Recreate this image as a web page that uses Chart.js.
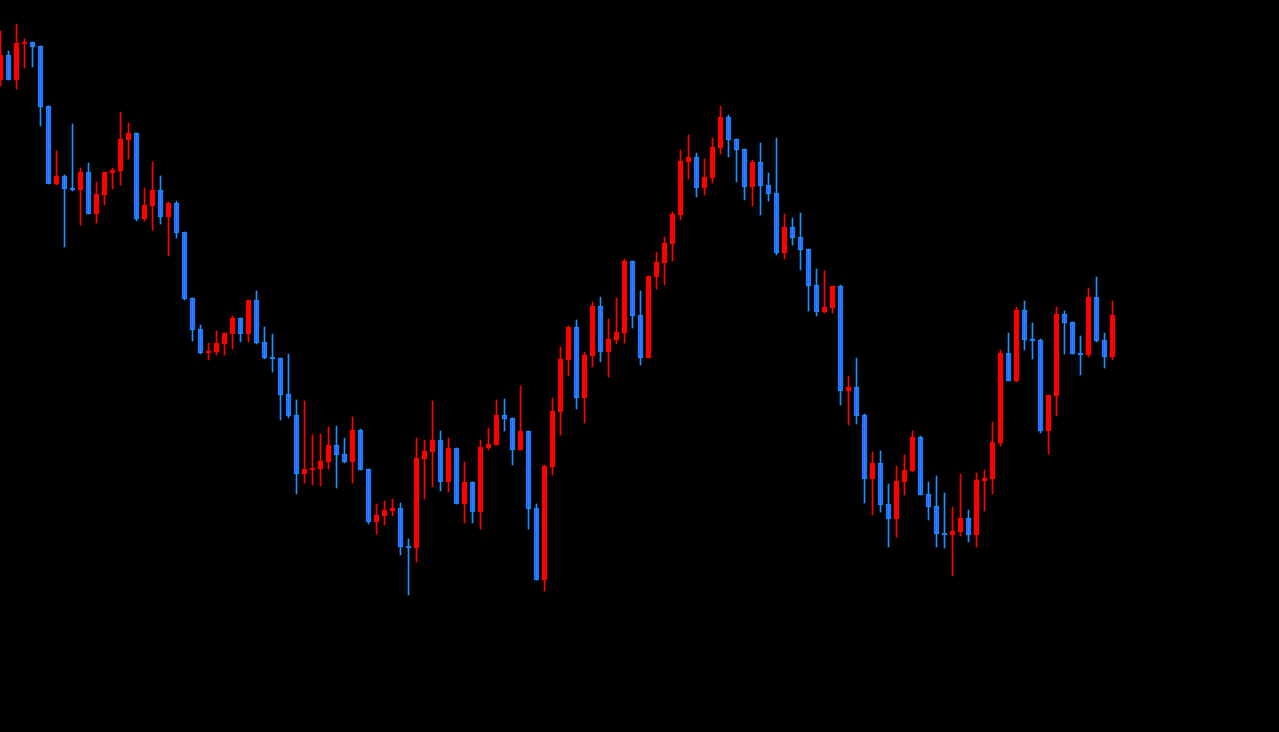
<!DOCTYPE html>
<html>
<head>
<meta charset="utf-8">
<script src="https://cdn.jsdelivr.net/npm/chart.js@4.4.1/dist/chart.umd.min.js"></script>
<style>
    html, body { margin: 0; padding: 0; background: #000; }
    #wrap { width: 1279px; height: 732px; position: relative; }
</style>
</head>
<body>
<div id="wrap"><canvas id="candles"></canvas></div>
<script>
const opens = [
    920, 945, 920, 956, 958, 954, 894, 816, 824, 812, 810, 828, 786, 805, 827, 829, 860, 867, 781, 794,
    810, 783, 797, 768, 702, 671, 647, 648, 656, 666, 682, 666, 700, 658, 643, 642, 606, 585, 526, 530,
    531, 538, 555, 546, 538, 570, 531, 478, 484, 489, 492, 454, 452, 541, 548, 560, 518, 552, 496, 518,
    488, 552, 555, 585, 582, 550, 569, 492, 420, 533, 588, 640, 673, 602, 644, 694, 648, 660, 667, 739,
    685, 642, 723, 737, 756, 785, 838, 843, 812, 822, 852, 883, 861, 851, 813, 838, 815, 807, 747, 773,
    763, 751, 715, 688, 692, 714, 609, 613, 585, 521, 537, 496, 481, 518, 529, 563, 506, 494, 467, 465,
    468, 482, 465, 519, 521, 557, 647, 619, 690, 661, 660, 569, 604, 686, 678, 647, 645, 703, 660, 643
];
const highs = [
    969, 949, 976, 961, 958, 954, 894, 849, 825, 876, 832, 837, 818, 828, 832, 888, 877, 867, 812, 838,
    824, 798, 799, 768, 702, 675, 657, 669, 667, 684, 682, 700, 709, 673, 666, 642, 646, 600, 599, 565,
    566, 573, 574, 562, 583, 571, 531, 496, 499, 501, 497, 461, 562, 560, 599, 569, 562, 552, 538, 518,
    560, 572, 600, 601, 582, 614, 569, 496, 535, 602, 653, 674, 680, 648, 698, 703, 681, 702, 741, 739,
    709, 724, 748, 763, 788, 850, 865, 847, 841, 862, 894, 885, 861, 851, 840, 857, 827, 862, 786, 782,
    787, 751, 731, 729, 714, 715, 624, 642, 586, 548, 549, 516, 534, 545, 569, 564, 518, 524, 507, 493,
    526, 490, 527, 530, 578, 650, 667, 693, 699, 677, 661, 605, 693, 689, 678, 664, 712, 723, 667, 699
];
const lows = [
    914, 920, 911, 932, 933, 874, 816, 815, 753, 809, 775, 786, 777, 795, 811, 815, 841, 779, 779, 770,
    776, 744, 762, 700, 659, 646, 640, 645, 645, 651, 658, 658, 656, 641, 628, 580, 582, 506, 517, 515,
    514, 531, 512, 537, 517, 530, 476, 466, 475, 484, 445, 405, 438, 501, 513, 509, 508, 496, 477, 477,
    471, 550, 555, 569, 535, 550, 471, 420, 409, 525, 565, 624, 591, 577, 633, 638, 623, 656, 657, 672,
    635, 642, 711, 715, 739, 780, 821, 803, 805, 817, 846, 843, 818, 800, 794, 785, 799, 745, 741, 755,
    730, 689, 684, 687, 687, 595, 575, 576, 497, 485, 488, 453, 463, 505, 528, 505, 480, 453, 452, 424,
    464, 458, 453, 489, 506, 554, 619, 618, 650, 641, 567, 546, 584, 646, 646, 625, 643, 658, 632, 640
];
const closes = [
    945, 920, 957, 958, 953, 893, 816, 824, 811, 810, 828, 786, 806, 828, 830, 861, 867, 781, 795, 810,
    783, 797, 767, 701, 670, 647, 649, 657, 667, 682, 666, 700, 657, 642, 641, 605, 584, 526, 531, 532,
    539, 555, 545, 538, 570, 530, 478, 485, 490, 492, 453, 452, 542, 549, 560, 518, 552, 496, 518, 488,
    553, 556, 585, 581, 550, 569, 491, 420, 534, 589, 641, 673, 602, 645, 694, 648, 661, 668, 739, 684,
    642, 724, 738, 757, 786, 839, 843, 812, 823, 853, 883, 860, 850, 813, 838, 814, 806, 747, 773, 762,
    750, 714, 688, 693, 714, 609, 613, 584, 521, 537, 495, 481, 519, 530, 563, 505, 493, 466, 465, 469,
    482, 465, 520, 522, 558, 647, 619, 690, 660, 659, 569, 605, 686, 677, 646, 645, 703, 659, 643, 685
];

const upColor = '#ff0000';
const downFill = '#3050ff';
const downEdge = '#1e90ff';

const wicks = [];
const bodies = [];
const wickColors = [];
const bodyColors = [];
const edgeColors = [];
for (let i = 0; i < opens.length; i++) {
    const up = closes[i] >= opens[i];
    wicks.push({x: i, y: [lows[i], highs[i]]});
    bodies.push({x: i, y: [opens[i], closes[i]]});
    wickColors.push(up ? upColor : downEdge);
    bodyColors.push(up ? upColor : downFill);
    edgeColors.push(up ? upColor : downEdge);
}

const config = {
    type: 'bar',
    data: {
        datasets: [
            {
                label: 'wick',
                data: wicks,
                backgroundColor: wickColors,
                borderWidth: 0,
                barThickness: 1,
                grouped: false
            },
            {
                label: 'body',
                data: bodies,
                backgroundColor: bodyColors,
                borderColor: edgeColors,
                borderWidth: 1,
                borderSkipped: false,
                barThickness: 5,
                grouped: false
            }
        ]
    },
    options: {
        responsive: true,
        maintainAspectRatio: false,
        animation: false,
        layout: { padding: 0 },
        plugins: {
            legend: { display: false },
            tooltip: { enabled: false }
        },
        scales: {
            x: {
                type: 'linear',
                display: false,
                min: -0.0625,
                max: 159.8125,
                offset: false,
                grid: { display: false }
            },
            y: {
                display: false,
                min: 268,
                max: 1000,
                grid: { display: false }
            }
        }
    }
};

const ctx = document.getElementById('candles').getContext('2d');
const chart = new Chart(ctx, config);
</script>
</body>
</html>
